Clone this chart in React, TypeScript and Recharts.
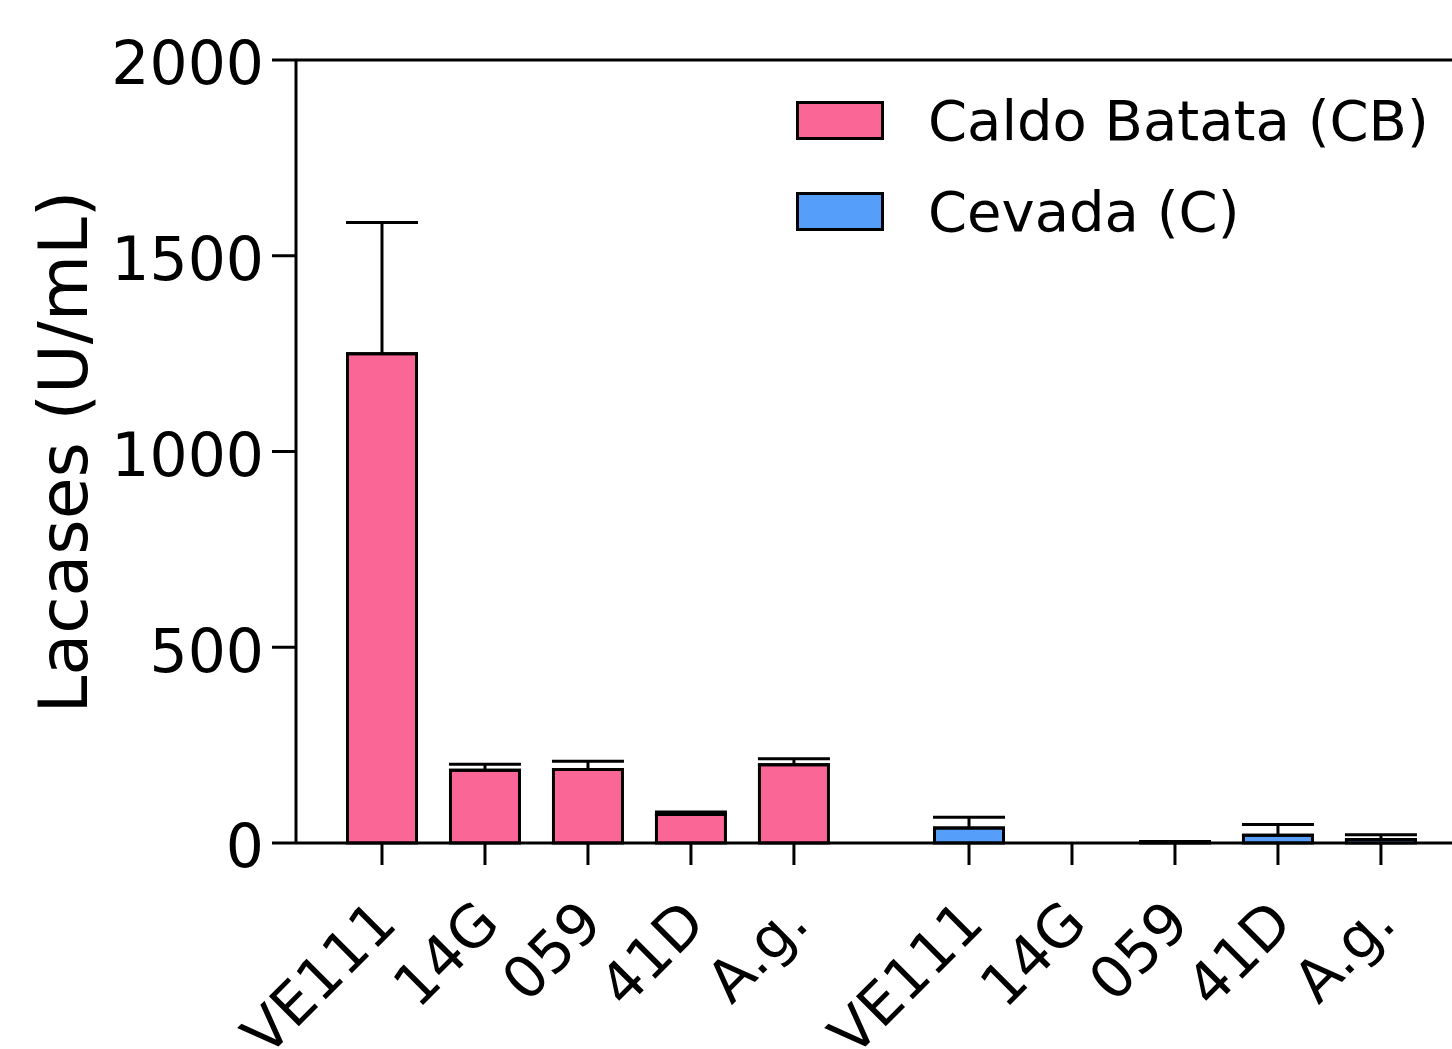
import { BarChart, Bar, XAxis, YAxis, Cell, ErrorBar, ReferenceLine, Legend } from 'recharts'

// strains measured in each medium
const strains = ['VE111', '14G', '059', '41D', 'A.g.']

// Caldo Batata (CB) - mean and upper SD (U/mL)
const cbMeans = [1250, 186, 188, 73, 200]
const cbErrors = [335, 15, 21, 6, 15]

// Cevada (C)
const cMeans = [38, 0, 3, 20, 9]
const cErrors = [28, 0, 1, 27, 12]

const yTicks = [0, 500, 1000, 1500, 2000]

const groups = [
    { name: 'Caldo Batata (CB)', color: '#FA6797', means: cbMeans, errors: cbErrors },
    { name: 'Cevada (C)', color: '#559FFA', means: cMeans, errors: cErrors },
]

// slot positions on the x scale: 5 bars per group, wider gap between groups
const GROUP_GAP = 1.7
const rows = groups.flatMap((g, gi) =>
    strains.map((s, i) => ({
        pos: 1 + i + gi * (strains.length - 1 + GROUP_GAP),
        label: s,
        group: gi,
        value: g.means[i],
        err: [0, g.errors[i]],
        color: g.color,
    }))
)

const FONT = '"DejaVu Sans", Verdana, sans-serif'

const XTick = (props: any) => {
    const { x, index } = props
    const row = rows[index]
    if (!row) return null
    const ax = x + 17
    const ay = 926
    return (
        <text
            x={ax}
            y={ay}
            transform={`rotate(-45 ${ax} ${ay})`}
            textAnchor="end"
            fontSize={58}
            fontFamily={FONT}
            fill="#000"
        >
            {row.label}
        </text>
    )
}

const LegendBox = () => (
    <div style={{ fontFamily: FONT, fontSize: 56, color: '#000', lineHeight: 1 }}>
        {groups.map(g => (
            <div key={g.name} style={{ display: 'flex', alignItems: 'center', height: 91 }}>
                <div
                    style={{
                        width: 82,
                        height: 33,
                        background: g.color,
                        border: '3px solid #000',
                        marginRight: 44,
                    }}
                />
                <span>{g.name}</span>
            </div>
        ))}
    </div>
)

export default function App() {
    return (
        <div style={{ position: 'absolute', left: 0, top: 0, width: 1452, height: 1049, background: '#fff' }}>
            <BarChart
                width={1452}
                height={1049}
                data={rows}
                margin={{ top: 60, right: 0, bottom: 0, left: 0 }}
            >
                <XAxis
                    type="number"
                    dataKey="pos"
                    domain={[0.165, 11.39]}
                    allowDataOverflow
                    ticks={rows.map(r => r.pos)}
                    interval={0}
                    height={206}
                    tickSize={22}
                    tick={<XTick />}
                    axisLine={{ stroke: '#000', strokeWidth: 3 }}
                    tickLine={{ stroke: '#000', strokeWidth: 3 }}
                />
                <YAxis
                    domain={[0, 2000]}
                    ticks={yTicks}
                    width={296}
                    tickSize={24}
                    tickMargin={8}
                    tick={{ fontSize: 60, fontFamily: FONT, fill: '#000', dy: 3 }}
                    axisLine={{ stroke: '#000', strokeWidth: 3 }}
                    tickLine={{ stroke: '#000', strokeWidth: 3 }}
                    label={() => (
                        <text
                            x={87}
                            y={452}
                            transform="rotate(-90 87 452)"
                            textAnchor="middle"
                            fontSize={68}
                            fontFamily={FONT}
                            fill="#000"
                        >
                            Lacases (U/mL)
                        </text>
                    )}
                />
                <ReferenceLine y={2000} stroke="#000" strokeWidth={3} />
                <Legend
                    layout="vertical"
                    align="center"
                    verticalAlign="middle"
                    content={<LegendBox />}
                    wrapperStyle={{ position: 'absolute', left: 796, top: 75, width: 660 }}
                />
                <Bar dataKey="value" barSize={69} stroke="#000" strokeWidth={3} isAnimationActive={false}>
                    {rows.map((r, i) => (
                        <Cell key={`cell-${i}`} fill={r.color} />
                    ))}
                    <ErrorBar dataKey="err" width={36} stroke="#000" strokeWidth={3} direction="y" isAnimationActive={false} />
                </Bar>
            </BarChart>
        </div>
    )
}
